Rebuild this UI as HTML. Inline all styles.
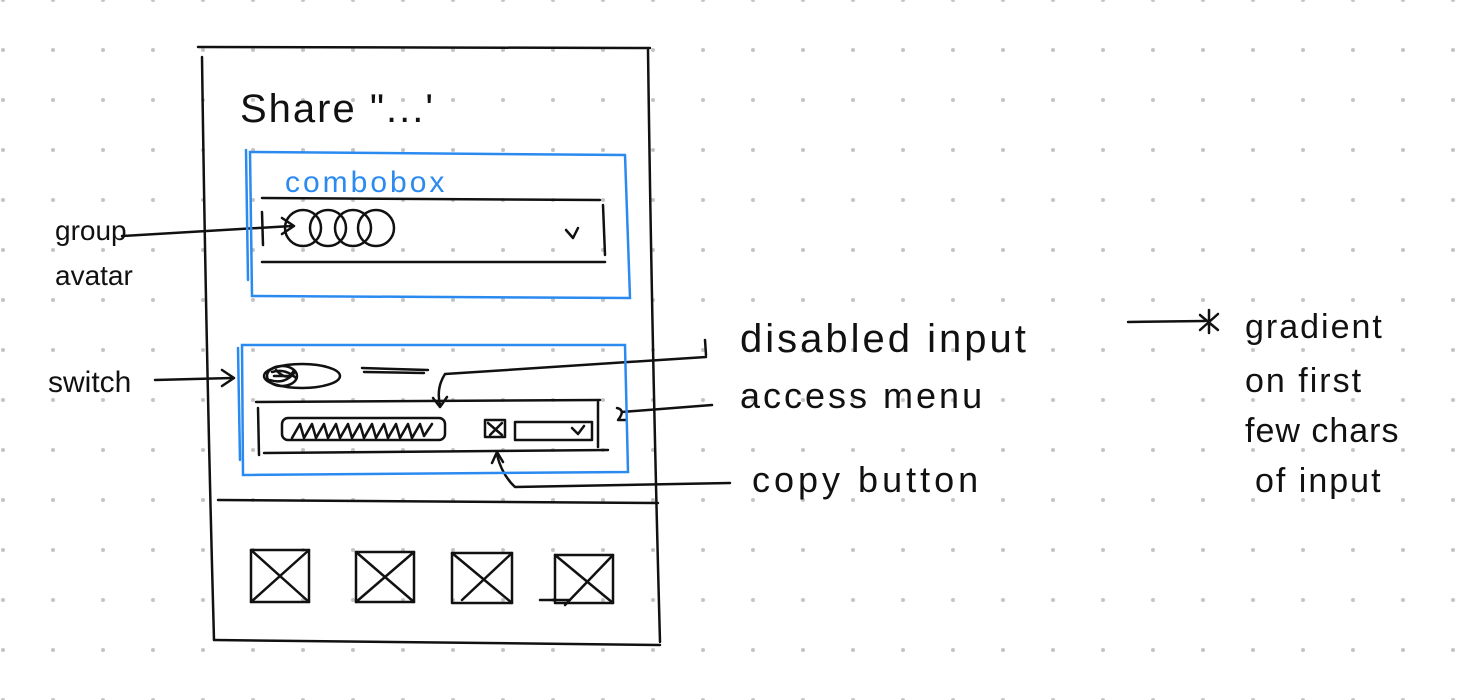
<!DOCTYPE html>
<html><head><meta charset="utf-8"><style>
html,body{margin:0;padding:0;background:#fff}
svg{display:block}
text{font-family:"Liberation Sans",sans-serif;fill:#111}
</style></head><body>
<svg width="1468" height="700" viewBox="0 0 1468 700" xmlns="http://www.w3.org/2000/svg">
<defs>
<pattern id="dots" x="0" y="0" width="50" height="50" patternUnits="userSpaceOnUse">
<circle cx="3" cy="0" r="2" fill="#c4c4c4"/><circle cx="3" cy="50" r="2" fill="#c4c4c4"/>
</pattern>
</defs>
<rect width="1468" height="700" fill="url(#dots)"/>
<g fill="none" stroke="#111" stroke-width="2.5" stroke-linecap="round" stroke-linejoin="round">
<path d="M198 47 L650 48"/>
<path d="M202 57 Q206 350 214 640"/>
<path d="M648 50 Q652 350 660 642"/>
<path d="M214 640 L660 645"/>
<path d="M218 500 L658 503"/>
<path d="M262 198 L600 200"/>
<path d="M262 262 L605 262"/>
<path d="M603 205 L605 255"/>
<path d="M262 212 L263 245"/>
<circle cx="303" cy="228" r="18"/><circle cx="328" cy="228" r="18"/><circle cx="353" cy="228" r="18"/><circle cx="376" cy="228" r="18"/>
<path d="M566 230 L573 238 L578 228"/>
<path d="M122 236 L292 226"/><path d="M282 218 L294 226 L282 234"/>
<ellipse cx="302" cy="376" rx="38" ry="12"/>
<ellipse cx="282" cy="376" rx="15" ry="10"/>
<path d="M272 372 Q285 368 296 378 M270 380 Q285 385 295 372 M274 376 L292 376 M276 370 Q288 383 294 370"/>
<path d="M362 368 L428 370 M364 372 L424 373"/>
<path d="M155 380 L232 378"/><path d="M222 370 L234 378 L222 386"/>
<path d="M256 402 L600 400"/>
<path d="M264 453 L608 450"/>
<path d="M598 402 L598 447"/>
<path d="M258 408 L259 455"/>
<rect x="282" y="418" width="163" height="22" rx="6"/>
<path d="M292 438 L300 424 L304 438 L312 424 L316 438 L324 424 L328 438 L336 424 L340 438 L348 424 L352 438 L360 424 L364 438 L372 424 L376 438 L384 424 L388 438 L396 424 L400 438 L408 424 L412 438 L420 424 L424 436 L432 424"/>
<rect x="485" y="420" width="20" height="17"/>
<path d="M488 423 L502 435 M502 423 L490 435"/>
<rect x="515" y="422" width="77" height="18"/>
<path d="M572 428 L578 434 L584 426"/>
<path d="M705 340 L706 355"/>
<path d="M706 357 L445 374 Q436 388 440 405"/>
<path d="M433 398 L440 407 L447 397"/>
<path d="M622 412 L712 405"/>
<path d="M617 408 Q626 410 618 420 L626 420"/>
<path d="M730 483 L515 487 Q502 475 497 455"/>
<path d="M492 463 L497 452 L503 462"/>
<path d="M1128 322 L1205 321"/>
<path d="M1200 315 L1218 330 M1218 314 L1200 330 M1209 310 L1209 333"/>
<rect x="251" y="550" width="58" height="52"/><path d="M251 550 L309 602 M309 550 L251 602"/>
<rect x="356" y="552" width="58" height="50"/><path d="M356 552 L414 602 M414 552 L356 602"/>
<rect x="452" y="553" width="60" height="50"/><path d="M452 553 L512 603 M512 553 L462 600"/>
<rect x="555" y="555" width="58" height="48"/><path d="M555 555 L613 603 M613 555 L565 605 M540 600 L570 600"/>
</g>
<g fill="none" stroke="#2b8af0" stroke-width="2.5" stroke-linecap="round">
<path d="M250 152 L625 155 L630 298 L252 296 Z"/>
<path d="M246 150 L248 280"/>
<path d="M242 345 L625 345 L628 472 L243 475 Z"/>
<path d="M238 348 L240 460"/>
</g>
<text x="285" y="192" font-size="30" style="fill:#2b8af0" letter-spacing="3">combobox</text>
<text x="240" y="122" font-size="40" letter-spacing="2">Share "...'</text>
<text x="55" y="240" font-size="28">group</text>
<text x="55" y="285" font-size="28">avatar</text>
<text x="48" y="392" font-size="30">switch</text>
<text x="740" y="352" font-size="40" letter-spacing="3">disabled input</text>
<text x="740" y="408" font-size="36" letter-spacing="3">access menu</text>
<text x="752" y="492" font-size="36" letter-spacing="4">copy button</text>
<text x="1245" y="338" font-size="34" letter-spacing="2">gradient</text>
<text x="1245" y="392" font-size="34" letter-spacing="2">on first</text>
<text x="1245" y="442" font-size="34" letter-spacing="1">few chars</text>
<text x="1255" y="492" font-size="34" letter-spacing="2">of input</text>
</svg>
</body></html>
